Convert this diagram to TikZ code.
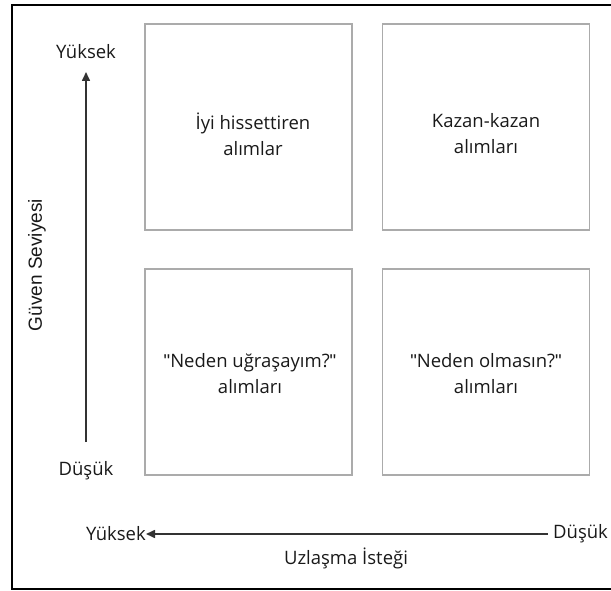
\documentclass[tikz,border=0pt]{standalone}
\usepackage{fontspec}
\setmainfont{Open Sans}[Ligatures=ResetAll]
\newfontfamily\axisfont{Liberation Sans}[Ligatures=ResetAll]
\usetikzlibrary{arrows.meta}
\newcommand{\dq}{{\axisfont"}}
\tikzset{
  quad/.style={draw=black!33, line width=1.6pt, minimum width=207pt, minimum height=206pt, inner sep=0pt},
  quadtext/.style={align=center, font=\fontsize{18.5}{26}\selectfont, text=black!90},
  axlabel/.style={font=\fontsize{18.5}{22}\selectfont, text=black!90, inner sep=0pt},
  axarrow/.style={draw=black!80, line width=1.6pt, -{Triangle[length=9pt,width=8pt]}},
}
\begin{document}
\begin{tikzpicture}[x=1pt,y=-1pt]
\useasboundingbox (0,0) rectangle (611,591);
\draw[line width=1.8pt] (618,5) -- (12,5) -- (12,589) -- (618,589);
\node[quad] (tl) at (248.5,127) {};
\node[quad] (tr) at (486,127) {};
\node[quad] (bl) at (248.5,372) {};
\node[quad] (br) at (486,372) {};
\node[quadtext] (ttl) at (253,134) {İyi hissettiren\\alımlar};
\node[quadtext] (ttr) at (486,134) {Kazan-kazan\\alımları};
\node[quadtext] (tbl) at (250,374) {\dq Neden uğraşayım?\dq\\alımları};
\node[quadtext] (tbr) at (486,374) {\dq Neden olmasın?\dq\\alımları};
\node[axlabel] (vhi) at (86,52) {Yüksek};
\node[axlabel] (vlo) at (86,471) {Düşük};
\coordinate (vstart) at (86,442);
\coordinate (vend) at (86,72);
\draw[axarrow] (vstart) -- (vend);
\node[axlabel, anchor=east] (hhi) at (146,534) {Yüksek};
\node[axlabel, anchor=west] (hlo) at (553,534) {Düşük};
\draw[axarrow, shorten <=5pt] (hlo.west) -- (hhi.east);
\node[axlabel] (hname) at (346,558) {Uzlaşma İsteği};
\node[axlabel, font=\axisfont\fontsize{19}{22}\selectfont, rotate=90] (vname) at (37,265) {Güven Seviyesi};
\end{tikzpicture}
\end{document}
